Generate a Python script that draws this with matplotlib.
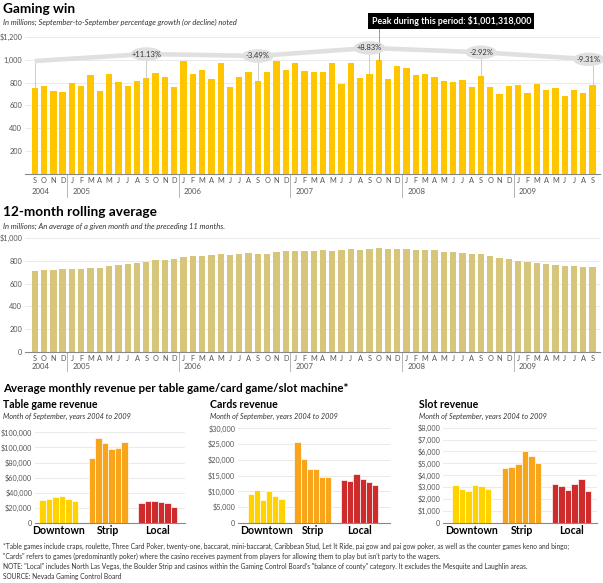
import numpy as np
import matplotlib.pyplot as plt
from matplotlib.patches import Ellipse
import matplotlib.transforms as mtransforms

plt.rcParams['font.family'] = ['Lato', 'DejaVu Sans']

# ---- data ----
months = list('SOND') + list('JFMAMJJASOND') * 4 + list('JFMAMJJAS')
years = ['2004', '2005', '2006', '2007', '2008', '2009']

# monthly gaming win, Sep 2004 - Sep 2009 (millions)
gaming_win = [755, 767, 723, 714,
              794, 767, 867, 726, 873, 802, 767, 811, 838, 885, 850, 764,
              991, 873, 912, 829, 968, 761, 853, 891, 814, 891, 991, 914,
              973, 906, 891, 894, 973, 791, 968, 838, 879, 1001, 832, 947,
              932, 867, 873, 850, 811, 808, 823, 761, 856, 758, 702, 773,
              779, 711, 788, 737, 749, 687, 732, 711, 776]

# 12-month rolling average (millions)
rolling_avg = [710, 718, 716, 724,
               727, 727, 739, 739, 754, 760, 771, 777, 786, 804, 809, 812,
               830, 842, 842, 850, 856, 853, 859, 865, 862, 862, 877, 889,
               886, 886, 883, 891, 889, 891, 900, 897, 903, 912, 900, 900,
               900, 897, 894, 891, 877, 880, 868, 859, 856, 839, 827, 812,
               801, 789, 780, 771, 765, 757, 751, 748, 745]

sept_change = ['+11.13%', '-3.49%', '+8.83%', '-2.92%', '-9.31%']
peak_label = 'Peak during this period: $1,001,318,000'

groups = ['Downtown', 'Strip', 'Local']
table_downtown = [31200, 32500, 35200, 36000, 31600, 29900]
table_strip = [86600, 113000, 106400, 98500, 99800, 107700]
table_local = [26400, 29000, 29900, 28100, 26400, 21100]
cards_downtown = [9100, 10300, 7300, 10100, 8400, 7600]
cards_strip = [25700, 20400, 17200, 17200, 14600, 14600]
cards_local = [13600, 13100, 15400, 13800, 12900, 11900]
slot_downtown = [3150, 2840, 2700, 3170, 3060, 2810]
slot_strip = [4580, 4690, 4970, 6010, 5620, 5000]
slot_local = [3290, 3120, 2780, 3290, 3710, 2700]

# ---- layout ----
W, H = 603, 583
fig = plt.figure(figsize=(W / 100, H / 100), dpi=100)


def add_ax(l, t, r, b):
    return fig.add_axes([l / W, 1 - b / H, (r - l) / W, (b - t) / H])


def ftext(px, py, s, **kw):
    fig.text(px / W, 1 - py / H, s, **kw)


tick_col = '#555555'
grid_col = '#e6e6e6'


def month_axis(ax, sep_depth):
    x = np.arange(len(months))
    ax.set_xticks(x, months)
    ax.tick_params(axis='x', length=0, labelsize=5.3, colors=tick_col, pad=2)
    ax.tick_params(axis='y', length=0, labelsize=5.3, colors=tick_col, pad=2)
    for s in ['top', 'right', 'left']:
        ax.spines[s].set_visible(False)
    ax.spines['bottom'].set_color('#888888')
    ax.spines['bottom'].set_linewidth(0.8)
    ax.yaxis.grid(True, color=grid_col, lw=0.6)
    ax.set_axisbelow(True)
    trans = mtransforms.blended_transform_factory(ax.transData, ax.transAxes)
    starts = [0] + [i for i, m in enumerate(months) if m == 'J' and months[i - 1] == 'D']
    for k, s in enumerate(starts):
        off = -0.3 if s == 0 else 0.05
        ax.text(s + off, -sep_depth * 0.76, years[k], transform=trans,
                ha='left', va='center', fontsize=5.6, color=tick_col)
        if s > 0:
            ax.plot([s - 0.5, s - 0.5], [0, -sep_depth], transform=trans,
                    color='#aaaaaa', lw=0.6, clip_on=False)
    ax.set_xlim(-1.05, 60.8)


# ---- Gaming win ----
ftext(3, 9, 'Gaming win', fontsize=9.8, fontweight='bold', va='center')
ftext(3, 22, 'In millions; September-to-September percentage growth (or decline) noted',
      fontsize=5.5, style='italic', va='center', color='#333333')

ax1 = add_ax(25, 37, 600, 174)
x = np.arange(len(gaming_win))
ax1.bar(x, gaming_win, width=0.68, color='#FFC600', zorder=2)
ax1.set_ylim(0, 1200)
ax1.set_yticks([200, 400, 600, 800, 1000, 1200],
               ['200', '400', '600', '800', '1,000', '$1,200'])
month_axis(ax1, 0.168)

sept_idx = [i for i, m in enumerate(months) if m == 'S']
line_levels = [990, 1051, 1034, 1104, 1066, 1004]
ax1.plot(sept_idx, line_levels, color='#e0e0e0', lw=3.3, zorder=3,
         clip_on=False, solid_capstyle='butt')
for i, lv in zip(sept_idx, line_levels):
    ax1.plot([i, i], [gaming_win[i], lv], color='#c4c4c4', lw=0.6, zorder=2.5)
for k, (i, lv) in enumerate(zip(sept_idx[1:], line_levels[1:])):
    cx = min(i, 59.6)
    ax1.add_patch(Ellipse((cx, lv), 3.4, 118, facecolor='#e0e0e0',
                          edgecolor='none', zorder=4, clip_on=False))
    ax1.text(cx, lv, sept_change[k], ha='center', va='center', fontsize=5.5,
             color='#333333', zorder=5, clip_on=False)

peak_i = int(np.argmax(gaming_win))
ax1.plot([peak_i, peak_i], [gaming_win[peak_i], 1290], color='#999999',
         lw=0.7, zorder=3.5, clip_on=False)
ax1.text(44.8, 1340, peak_label, ha='center', va='center', fontsize=6.4,
         fontweight='bold', color='white', zorder=6, clip_on=False,
         bbox=dict(facecolor='black', edgecolor='none', pad=2.2))

# ---- Rolling average ----
ftext(3, 212, '12-month rolling average', fontsize=9.8, fontweight='bold', va='center')
ftext(3, 226, 'In millions; An average of a given month and the preceding 11 months.',
      fontsize=5.5, style='italic', va='center', color='#333333')

ax2 = add_ax(25, 238, 600, 352)
ax2.bar(x, rolling_avg, width=0.68, color='#D6C57A', zorder=2)
ax2.set_ylim(0, 1000)
ax2.set_yticks([0, 200, 400, 600, 800, 1000],
               ['0', '200', '400', '600', '800', '$1,000'])
month_axis(ax2, 0.167)

# ---- bottom panels ----
ftext(3, 388, 'Average monthly revenue per table game/card game/slot machine*',
      fontsize=8.3, fontweight='bold', va='center')

grp_colors = ['#FFD200', '#F9A51B', '#CE2B2C']


def panel(box, xlim, ylim, yticks, ylabels, series, title, tx):
    ax = add_ax(*box)
    for g, vals in enumerate(series):
        ax.bar(g * 7.6 + np.arange(len(vals)), vals, width=1.0,
               color=grp_colors[g], edgecolor='white', linewidth=0.5, zorder=2)
    ax.set_xlim(*xlim)
    ax.set_ylim(0, ylim)
    ax.set_yticks(yticks, ylabels)
    ax.set_xticks([g * 7.6 + 2.5 for g in range(3)], groups)
    ax.tick_params(axis='x', length=0, labelsize=7.6, pad=1.5)
    for lab in ax.get_xticklabels():
        lab.set_fontweight('bold')
    ax.tick_params(axis='y', length=0, labelsize=5.2, colors=tick_col, pad=2)
    for s in ['top', 'right', 'left']:
        ax.spines[s].set_visible(False)
    ax.spines['bottom'].set_color('#888888')
    ax.spines['bottom'].set_linewidth(0.8)
    ax.yaxis.grid(True, color=grid_col, lw=0.6)
    ax.set_axisbelow(True)
    ftext(tx, 404, title, fontsize=7.6, fontweight='bold', va='center')
    ftext(tx, 416, 'Month of September, years 2004 to 2009', fontsize=5.2,
          style='italic', va='center', color='#333333')
    return ax


panel((35, 432.3, 185, 523.3), (-1.16, 21.9), 120000,
      range(0, 120001, 20000),
      ['0', '$20,000', '$40,000', '$60,000', '$80,000', '$100,000', '$100,000'],
      [table_downtown, table_strip, table_local], 'Table game revenue', 3)
panel((238, 428.3, 390, 522.7), (-2.08, 22.65), 30000,
      range(0, 30001, 5000),
      ['0', '$5,000', '$10,000', '$15,000', '$20,000', '$25,000', '$30,000'],
      [cards_downtown, cards_strip, cards_local], 'Cards revenue', 210)
panel((443, 427.7, 597, 522.7), (-1.87, 21.6), 8000,
      range(0, 8001, 1000),
      ['0', '$1,000', '$2,000', '$3,000', '$4,000', '$5,000', '$6,000',
       '$7,000', '$8,000'],
      [slot_downtown, slot_strip, slot_local], 'Slot revenue', 419)

# ---- footnotes ----
notes = [
    '*Table games include craps, roulette, Three Card Poker, twenty-one, baccarat, mini-baccarat, '
    'Caribbean Stud, Let It Ride, pai gow and pai gow poker, as well as the counter games keno and bingo;',
    '"Cards" refers to games (predominantly poker) where the casino receives payment from players '
    "for allowing them to play but isn't party to the wagers.",
    'NOTE: "Local" includes North Las Vegas, the Boulder Strip and casinos within the Gaming Control '
    'Board\'s "balance of county" category. It excludes the Mesquite and Laughlin areas.',
    'SOURCE: Nevada Gaming Control Board',
]
for k, n in enumerate(notes):
    ftext(3, 546 + k * 10.3, n, fontsize=4.75, va='center', color='#333333')

fig.savefig('out.png', dpi=100)
